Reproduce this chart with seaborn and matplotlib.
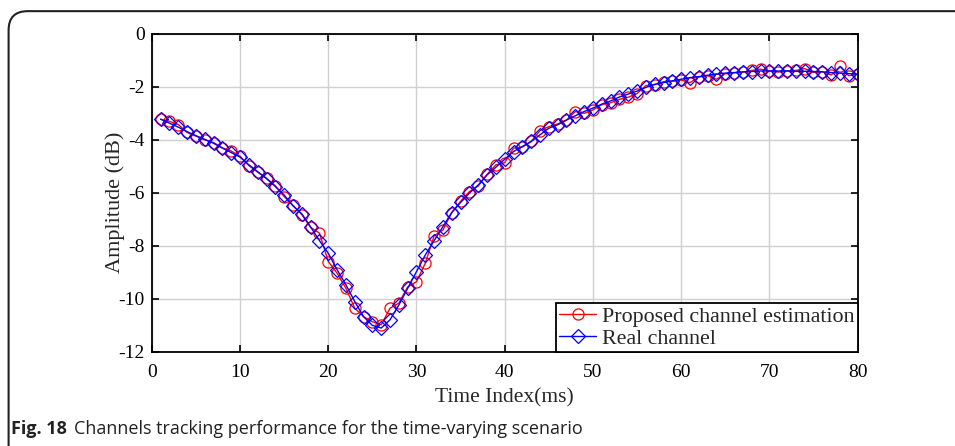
# Channel tracking: proposed estimation vs real channel
import numpy as np
import pandas as pd
import matplotlib
matplotlib.use("Agg")
import matplotlib.pyplot as plt
import seaborn as sns
from matplotlib.patches import FancyBboxPatch

# Data (time index 1..80 ms)
time_index = np.arange(1, 81)
real_channel = [
    -3.22, -3.37, -3.52, -3.69, -3.84, -3.98, -4.13, -4.31, -4.48, -4.65,
    -4.94, -5.20, -5.46, -5.76, -6.08, -6.49, -6.79, -7.29, -7.80, -8.28,
    -8.90, -9.47, -10.10, -10.67, -11.00, -11.10, -10.79, -10.23, -9.60, -8.97,
    -8.34, -7.80, -7.27, -6.74, -6.36, -6.01, -5.70, -5.32, -5.03, -4.73,
    -4.44, -4.25, -4.06, -3.81, -3.56, -3.43, -3.25, -3.09, -2.93, -2.80,
    -2.65, -2.53, -2.38, -2.27, -2.16, -2.02, -1.90, -1.84, -1.77, -1.71,
    -1.65, -1.61, -1.56, -1.52, -1.48, -1.46, -1.43, -1.42, -1.40, -1.40,
    -1.40, -1.40, -1.41, -1.41, -1.42, -1.43, -1.46, -1.48, -1.50, -1.52,
]
proposed_est = [
    -3.22, -3.30, -3.42, -3.72, -3.86, -4.00, -4.10, -4.30, -4.42, -4.62,
    -4.97, -5.22, -5.45, -5.74, -6.14, -6.47, -6.82, -7.30, -7.52, -8.59,
    -9.03, -9.60, -10.35, -10.67, -10.86, -10.98, -10.35, -10.16, -9.55, -9.35,
    -8.65, -7.62, -7.40, -6.74, -6.32, -5.95, -5.74, -5.30, -4.94, -4.86,
    -4.31, -4.27, -4.06, -3.65, -3.50, -3.40, -3.25, -2.93, -3.00, -2.87,
    -2.67, -2.60, -2.47, -2.39, -2.25, -1.95, -1.92, -1.80, -1.79, -1.74,
    -1.84, -1.63, -1.58, -1.71, -1.50, -1.47, -1.45, -1.38, -1.33, -1.40,
    -1.44, -1.40, -1.38, -1.31, -1.45, -1.43, -1.55, -1.23, -1.58, -1.52,
]
x_ticks = [0, 10, 20, 30, 40, 50, 60, 70, 80]
y_ticks = [0, -2, -4, -6, -8, -10, -12]

sns.set_style("ticks")
plt.rcParams['font.family'] = ['Liberation Serif', 'DejaVu Serif']
plt.rcParams['axes.unicode_minus'] = False

fig = plt.figure(figsize=(9.55, 4.46), dpi=100)
ax = fig.add_axes([0.159, 0.211, 0.739, 0.713])

# Red circles: proposed estimation, blue diamonds: real channel
sns.lineplot(x=time_index, y=proposed_est, ax=ax, color="#ff0000", lw=1.0,
             marker="o", markersize=8, markerfacecolor="none",
             markeredgecolor="#ff0000", markeredgewidth=0.9,
             label="Proposed channel estimation")
sns.lineplot(x=time_index, y=real_channel, ax=ax, color="#0000ff", lw=1.0,
             marker="D", markersize=7, markerfacecolor="none",
             markeredgecolor="#0000ff", markeredgewidth=0.9,
             label="Real channel")

ax.set_xlim(0, 80)
ax.set_ylim(-12, 0)
ax.set_xticks(x_ticks)
ax.set_yticks(y_ticks)
ax.grid(True, color="#d0d0d0", lw=1.0)
ax.tick_params(direction="in", top=True, right=True, length=5, width=1.2,
               labelsize=14, colors="black")
ax.tick_params(axis="x", pad=9)
ax.tick_params(axis="y", pad=5)
for s in ax.spines.values():
    s.set_visible(True)
    s.set_linewidth(1.3)
    s.set_color("black")
ax.set_xlabel("Time Index(ms)", fontsize=15.5, labelpad=5)
ax.set_ylabel("Amplitude (dB)", fontsize=16)
ax.yaxis.set_label_coords(-0.038, 0.47)

leg = ax.legend(loc="lower right", borderaxespad=0, fontsize=15.8,
                fancybox=False, framealpha=1, edgecolor="black",
                handlelength=1.7, handletextpad=0.25, borderpad=0.15,
                labelspacing=0.05)
leg.get_frame().set_linewidth(1.3)

# Caption and outer frame
fig.text(0.012, 0.028, "Fig. 18", fontsize=13, fontweight="bold",
         family=["Open Sans", "DejaVu Sans"], color="#222222")
fig.text(0.078, 0.028, "Channels tracking performance for the time-varying scenario",
         fontsize=13, family=["Open Sans", "DejaVu Sans"], color="#222222")
frame = FancyBboxPatch((0.009, -0.2), 1.1, 1.175, transform=fig.transFigure,
                       boxstyle="round,pad=0,rounding_size=0.02",
                       fill=False, edgecolor="#222222", lw=1.5,
                       mutation_aspect=955 / 446)
fig.patches.append(frame)

fig.savefig("out.png", dpi=100)
